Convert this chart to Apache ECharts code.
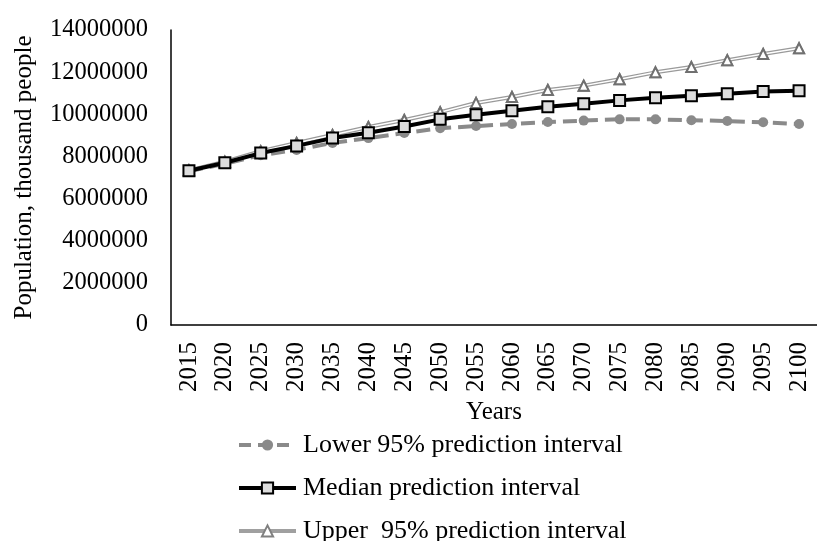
<!DOCTYPE html>
<html>
<head>
<meta charset="utf-8">
<script src="https://cdn.jsdelivr.net/npm/echarts@6/dist/echarts.min.js"></script>
<style>
html,body{margin:0;padding:0;background:#fff;}
#chart{width:817px;height:541px;}
</style>
</head>
<body>
<div id="chart"></div>
<script>
var years = ['2015','2020','2025','2030','2035','2040','2045','2050','2055','2060','2065','2070','2075','2080','2085','2090','2095','2100'];
var lower  = [7300000,7650000,8060000,8310000,8640000,8870000,9110000,9340000,9440000,9540000,9630000,9700000,9760000,9760000,9720000,9680000,9620000,9540000];
var median = [7320000,7700000,8160000,8500000,8870000,9120000,9420000,9760000,9980000,10170000,10360000,10500000,10660000,10780000,10880000,10980000,11080000,11120000];
var upper  = [7340000,7750000,8250000,8640000,9020000,9400000,9730000,10100000,10540000,10820000,11150000,11360000,11660000,11990000,12240000,12570000,12860000,13130000];
var yTicks = [0,2000000,4000000,6000000,8000000,10000000,12000000,14000000];
var seriesNames = ['Lower 95% prediction interval','Median prediction interval','Upper  95% prediction interval'];

var serif = '"Liberation Serif","Times New Roman",serif';
var chart = echarts.init(document.getElementById('chart'));
chart.setOption({
  animation: false,
  backgroundColor: '#fff',
  grid: {left: 171, top: 30, bottom: 216, right: -8, containLabel: false},
  xAxis: {
    type: 'category', data: years, boundaryGap: true,
    name: 'Years', nameLocation: 'middle', nameGap: 75,
    nameTextStyle: {fontFamily: serif, fontSize: 25, color: '#000'},
    axisLine: {lineStyle: {color: '#000', width: 1.5}},
    axisTick: {show: false},
    axisLabel: {rotate: 90, margin: 17, fontFamily: serif, fontSize: 25, color: '#000', interval: 0}
  },
  yAxis: {
    type: 'value', min: yTicks[0], max: yTicks[yTicks.length-1], interval: yTicks[1]-yTicks[0],
    name: 'Population, thousand people', nameLocation: 'middle', nameGap: 134, nameRotate: 90,
    nameTextStyle: {fontFamily: serif, fontSize: 25, color: '#000'},
    axisLine: {show: true, lineStyle: {color: '#000', width: 1.5}},
    axisTick: {show: false},
    splitLine: {show: false},
    axisLabel: {margin: 23, fontFamily: serif, fontSize: 24.5, color: '#000',
      formatter: function (v) { return String(v); }}
  },
  legend: {
    orient: 'vertical', left: 232, top: 427, height: 140, width: 500, padding: 5,
    itemGap: 17, itemWidth: 57, itemHeight: 14,
    data: [
      {name: seriesNames[0], lineStyle: {width: 4, type: [12,7], color: '#8a8a8a'}},
      {name: seriesNames[1], lineStyle: {width: 4, color: '#000'}},
      {name: seriesNames[2], lineStyle: {width: 4, color: '#a0a0a0'}}
    ],
    textStyle: {fontFamily: serif, fontSize: 26, color: '#000', padding: [0,0,0,2]}
  },
  series: [
    {
      name: seriesNames[0], type: 'line', data: lower, z: 2,
      symbol: 'circle', symbolSize: 10,
      itemStyle: {color: '#8a8a8a'},
      lineStyle: {color: '#8a8a8a', width: 4, type: [14,7]}
    },
    {
      name: seriesNames[2], type: 'line', data: upper, z: 3,
      symbol: 'triangle', symbolSize: 10,
      itemStyle: {color: '#fff', borderColor: '#808080', borderWidth: 2},
      lineStyle: {color: '#9a9a9a', width: 4}
    },
    {
      name: 'upper-inner', type: 'line', data: upper, z: 4,
      symbol: 'triangle', symbolSize: 10, silent: true,
      itemStyle: {color: '#fff', borderColor: '#707070', borderWidth: 2},
      lineStyle: {color: '#fff', width: 1.5}
    },
    {
      name: seriesNames[1], type: 'line', data: median, z: 5,
      symbol: 'rect', symbolSize: 11,
      itemStyle: {color: '#ddd', borderColor: '#000', borderWidth: 2},
      lineStyle: {color: '#000', width: 4}
    }
  ]
});
</script>
</body>
</html>
